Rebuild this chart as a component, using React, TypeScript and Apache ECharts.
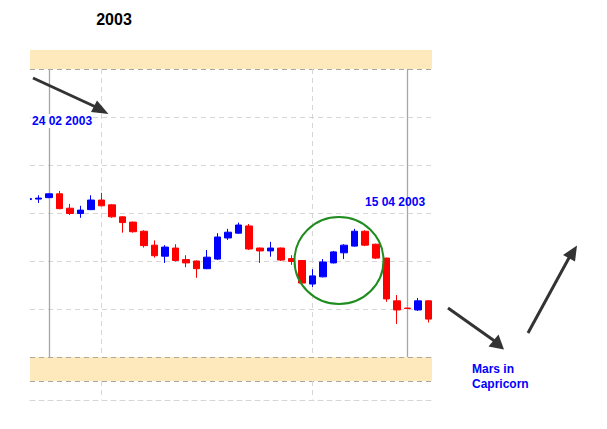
import React, { useEffect, useRef } from "react";
import * as echarts from "echarts";

// Trading days shown (categories)
const dates = [
  "24 02 2003", "25 02 2003", "26 02 2003", "27 02 2003", "28 02 2003",
  "03 03 2003", "04 03 2003", "05 03 2003", "06 03 2003", "07 03 2003",
  "10 03 2003", "11 03 2003", "12 03 2003", "13 03 2003", "14 03 2003",
  "17 03 2003", "18 03 2003", "19 03 2003", "20 03 2003", "24 03 2003",
  "25 03 2003", "26 03 2003", "27 03 2003", "28 03 2003", "31 03 2003",
  "01 04 2003", "02 04 2003", "03 04 2003", "04 04 2003", "07 04 2003",
  "08 04 2003", "09 04 2003", "10 04 2003", "11 04 2003", "14 04 2003",
  "15 04 2003", "16 04 2003", "17 04 2003", "18 04 2003",
];
const opens = [
  8528, 8529, 8532, 8540, 8510, 8499, 8507, 8527, 8517, 8492,
  8481, 8462, 8433, 8410, 8427, 8403, 8400, 8384, 8404, 8448,
  8458, 8473, 8427, 8421, 8427, 8405, 8401, 8352, 8367, 8396,
  8417, 8431, 8462, 8435, 8406, 8317, 8302, 8298, 8317,
];
const closes = [
  8530, 8531, 8540, 8509, 8499, 8506, 8527, 8515, 8492, 8480,
  8461, 8432, 8411, 8429, 8401, 8396, 8384, 8408, 8450, 8460,
  8475, 8425, 8421, 8427, 8402, 8399, 8354, 8369, 8398, 8419,
  8433, 8462, 8433, 8406, 8321, 8298, 8301, 8317, 8279,
];
const lows = [
  8527, 8521, 8531, 8508, 8496, 8490, 8506, 8514, 8490, 8459,
  8459, 8428, 8407, 8396, 8399, 8387, 8365, 8383, 8402, 8444,
  8457, 8423, 8396, 8409, 8400, 8392, 8353, 8346, 8366, 8395,
  8404, 8430, 8431, 8404, 8315, 8269, 8301, 8296, 8272,
];
const highs = [
  8532, 8537, 8541, 8546, 8519, 8515, 8537, 8542, 8518, 8493,
  8482, 8464, 8443, 8433, 8435, 8412, 8401, 8423, 8458, 8467,
  8480, 8477, 8428, 8440, 8428, 8412, 8401, 8383, 8404, 8421,
  8435, 8467, 8464, 8436, 8407, 8329, 8302, 8323, 8318,
];

// Horizontal grid levels and shaded bands (price units)
const gridLevels = [8700, 8600, 8500, 8400, 8300];
const bandBorderLevels = [8800, 8200, 8150];
const topBand = [8800, 8839.58];
const bottomBand = [8150, 8200];
const dashedDayIdx = [7, 27];
const solidDayIdx = [2, 36];

const Y_MIN = 8110.42;
const Y_MAX = 8839.58;

export default function App() {
  const ref = useRef<HTMLDivElement>(null);

  useEffect(() => {
    if (!ref.current) return;
    const chart = echarts.init(ref.current, undefined, { renderer: "svg" });

    const data = dates.map((_, i) => [i, opens[i], closes[i], lows[i], highs[i]]);

    const light = { color: "#d6d6d6", type: [5, 4] as any, width: 1 };
    const dark = { color: "#aca79d", type: [5, 4] as any, width: 1 };
    const solid = { color: "#a6a6a6", type: "solid", width: 1.3 };

    const markLineData: any[] = [];
    gridLevels.forEach((v) => markLineData.push({ yAxis: v, lineStyle: light }));
    bandBorderLevels.forEach((v) => markLineData.push({ yAxis: v, lineStyle: dark }));
    dashedDayIdx.forEach((i) => {
      markLineData.push([
        { coord: [i, topBand[0]], lineStyle: light },
        { coord: [i, bottomBand[1]] },
      ]);
      markLineData.push([
        { coord: [i, bottomBand[0]], lineStyle: light },
        { coord: [i, Y_MIN + 1] },
      ]);
    });
    solidDayIdx.forEach((i) => {
      markLineData.push([
        { coord: [i, topBand[0]], lineStyle: solid },
        { coord: [i, bottomBand[1]] },
      ]);
    });

    const font = "Liberation Sans, Arial, sans-serif";
    const blue = "#0000ff";
    const arrowColor = "#333333";

    chart.setOption({
      animation: false,
      backgroundColor: "#ffffff",
      grid: { left: 30, right: 175, top: 50, bottom: 29, containLabel: false },
      xAxis: {
        type: "value",
        min: 0.213,
        max: 38.33,
        axisLine: { show: true, onZero: false, lineStyle: { color: "#d6d6d6", type: [5, 4] } },
        axisTick: { show: false },
        axisLabel: { show: false },
        splitLine: { show: false },
      },
      yAxis: {
        type: "value",
        min: Y_MIN,
        max: Y_MAX,
        show: false,
        splitLine: { show: false },
      },
      series: [
        {
          type: "candlestick",
          data,
          encode: { x: 0, y: [1, 2, 3, 4] },
          barWidth: 7,
          z: 2,
          itemStyle: {
            color: blue,
            color0: "#ff0000",
            borderColor: blue,
            borderColor0: "#ff0000",
            borderWidth: 1,
          },
          markArea: {
            silent: true,
            z: 0,
            itemStyle: { color: "#fde9bc" },
            data: [
              [{ yAxis: topBand[0] }, { yAxis: topBand[1] }],
              [{ yAxis: bottomBand[0] }, { yAxis: bottomBand[1] }],
            ],
          },
          markLine: {
            silent: true,
            z: 1,
            symbol: ["none", "none"],
            label: { show: false },
            data: markLineData,
          },
        },
      ],
      graphic: [
        // mask anything drawn left of the plot area
        {
          type: "rect",
          shape: { x: 0, y: 70, width: 30, height: 286 },
          style: { fill: "#ffffff" },
          z: 5,
        },
        {
          type: "text",
          style: { text: "2003", x: 114, y: 19, align: "center", verticalAlign: "middle", font: `bold 16px ${font}`, fill: "#000" },
          z: 10,
        },
        {
          type: "text",
          style: {
            text: "24 02 2003", x: 31, y: 121, align: "left", verticalAlign: "middle",
            font: `bold 12px ${font}`, fill: blue, backgroundColor: "#ffffff", padding: [1, 1],
          },
          z: 10,
        },
        {
          type: "text",
          style: { text: "15 04 2003", x: 365, y: 202, align: "left", verticalAlign: "middle", font: `bold 12px ${font}`, fill: blue },
          z: 10,
        },
        {
          type: "text",
          style: { text: "Mars in\nCapricorn", x: 472, y: 361, align: "left", verticalAlign: "top", lineHeight: 15, font: `bold 12px ${font}`, fill: blue },
          z: 10,
        },
        {
          type: "ellipse",
          shape: { cx: 339, cy: 260.5, rx: 44.5, ry: 43.5 },
          style: { fill: "none", stroke: "#1e8c1e", lineWidth: 2 },
          z: 10,
        },
        // arrow 1
        { type: "line", shape: { x1: 33, y1: 78, x2: 98, y2: 108 }, style: { stroke: arrowColor, lineWidth: 3 }, z: 10 },
        { type: "polygon", shape: { points: [[108.5, 114], [97, 100.5], [91, 112]] }, style: { fill: arrowColor }, z: 10 },
        // arrow 2
        { type: "line", shape: { x1: 448, y1: 308, x2: 496, y2: 342 }, style: { stroke: arrowColor, lineWidth: 3 }, z: 10 },
        { type: "polygon", shape: { points: [[504, 349.5], [498.5, 334.5], [488.5, 346.5]] }, style: { fill: arrowColor }, z: 10 },
        // arrow 3
        { type: "line", shape: { x1: 528, y1: 333, x2: 570, y2: 256 }, style: { stroke: arrowColor, lineWidth: 3 }, z: 10 },
        { type: "polygon", shape: { points: [[577, 245.5], [563, 255], [575, 261.5]] }, style: { fill: arrowColor }, z: 10 },
      ],
    });

    return () => chart.dispose();
  }, []);

  return (
    <div
      ref={ref}
      style={{ position: "absolute", left: 0, top: 0, width: 607, height: 429, background: "#fff" }}
    />
  );
}
